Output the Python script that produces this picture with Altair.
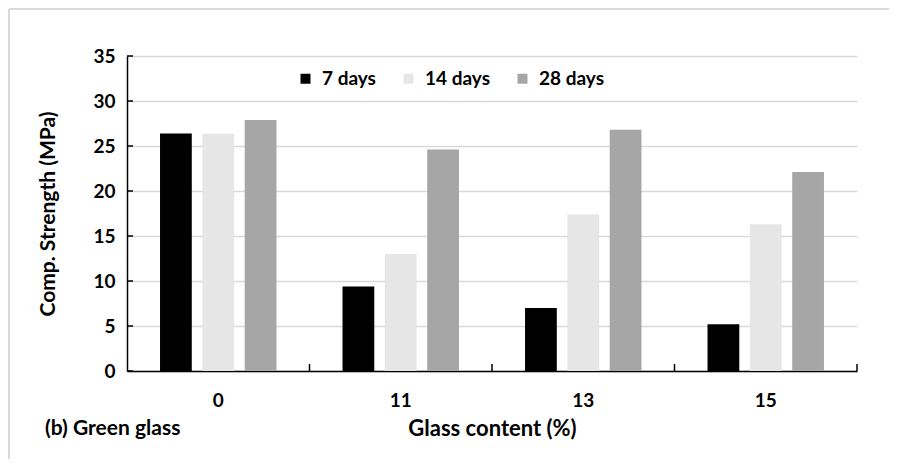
import altair as alt
import pandas as pd

categories = ["0", "11", "13", "15"]
series = ["7 days", "14 days", "28 days"]
s7 = [26.4, 9.4, 7.0, 5.2]
s14 = [26.35, 13.0, 17.4, 16.3]
s28 = [27.9, 24.6, 26.8, 22.1]
colors = ["#000000", "#e6e6e6", "#a6a6a6"]
y_ticks = [0, 5, 10, 15, 20, 25, 30, 35]
panel_label = "(b) Green glass"

rows = []
for i, c in enumerate(categories):
    for name, vals in zip(series, [s7, s14, s28]):
        rows.append({"glass": c, "age": name, "strength": vals[i]})
df = pd.DataFrame(rows)

FONT = "Lato"
W, H = 730, 315

xscale = alt.Scale(domain=categories, paddingInner=0, paddingOuter=0)
yscale = alt.Scale(domain=[0, 35], nice=False)

bars = alt.Chart(df).mark_bar().encode(
    x=alt.X("glass:N", scale=xscale, sort=categories,
            axis=alt.Axis(title="Glass content (%)", labelAngle=0, tickSize=0,
                          labelPadding=20, titlePadding=8, titleFontSize=22, grid=False)),
    xOffset=alt.XOffset("age:N", sort=series,
                        scale=alt.Scale(domain=series, paddingInner=0.25, paddingOuter=0.78)),
    y=alt.Y("strength:Q", scale=yscale,
            axis=alt.Axis(title="Comp. Strength (MPa)", values=y_ticks, tickSize=0,
                          labelPadding=12, titlePadding=34, titleFontSize=21, grid=True)),
    color=alt.Color("age:N", sort=series,
                    scale=alt.Scale(domain=series, range=colors),
                    legend=alt.Legend(title=None, orient="none", direction="horizontal",
                                      legendX=169, legendY=13, symbolType="square",
                                      symbolSize=100, symbolStrokeWidth=0,
                                      labelOffset=7, columnPadding=23, padding=0)),
)

xt = pd.DataFrame({"glass": categories[1:]})
xticks_a = alt.Chart(xt).mark_rule(color="black", strokeWidth=1.5).encode(
    x=alt.X("glass:N", scale=xscale, sort=categories, bandPosition=0),
    y=alt.value(H), y2=alt.value(H - 7))
xticks_b = alt.Chart(pd.DataFrame({"glass": categories[-1:]})).mark_rule(color="black", strokeWidth=1.5).encode(
    x=alt.X("glass:N", scale=xscale, sort=categories, bandPosition=1),
    y=alt.value(H), y2=alt.value(H - 7))

yt = alt.Chart(pd.DataFrame({"v": y_ticks})).mark_rule(color="black", strokeWidth=1.5).encode(
    y=alt.Y("v:Q", scale=yscale), x=alt.value(0), x2=alt.value(6))

label = alt.Chart(pd.DataFrame({"t": [panel_label]})).mark_text(
    font=FONT, fontWeight="bold", fontSize=21, align="left", baseline="middle", color="black"
).encode(text="t:N", x=alt.value(-82), y=alt.value(373))

one = pd.DataFrame({"t": [1]})
border_top = alt.Chart(one).mark_rule(color="#d9d9d9", strokeWidth=2).encode(
    x=alt.value(-118), x2=alt.value(762), y=alt.value(-47))
border_left = alt.Chart(one).mark_rule(color="#d9d9d9", strokeWidth=2).encode(
    x=alt.value(-118), y=alt.value(-47), y2=alt.value(403))

chart = alt.layer(border_top, border_left, bars, xticks_a, xticks_b, yt, label).properties(
    width=W, height=H,
    autosize=alt.AutoSizeParams(type="none"),
    padding={"left": 119, "top": 48, "right": 36, "bottom": 88},
).configure_view(stroke=None).configure_axis(
    labelFont=FONT, titleFont=FONT, labelFontSize=19,
    labelFontWeight="bold", titleFontWeight="bold", labelColor="black", titleColor="black",
    domainColor="black", domainWidth=1.5, gridColor="#d9d9d9", gridWidth=1.5,
).configure_legend(
    labelFont=FONT, labelFontSize=19, labelFontWeight="bold", labelColor="black",
)

chart.save("out.html", embed_options={"renderer": "svg", "actions": False})
